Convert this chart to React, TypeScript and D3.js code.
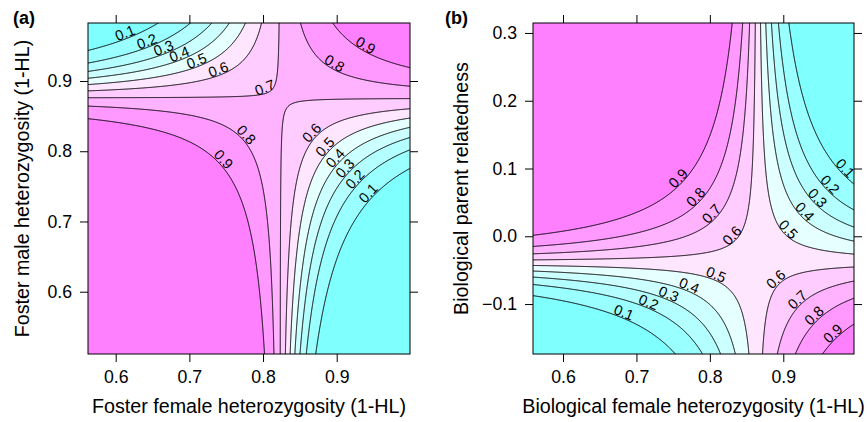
import { useEffect, useRef } from "react";
import * as d3 from "d3";

// contour levels drawn and labelled in both panels
const levels = [0.1, 0.2, 0.3, 0.4, 0.5, 0.6, 0.7, 0.8, 0.9];
// fill breaks (one colour per 0.1 band)
const breaks = [0, 0.1, 0.2, 0.3, 0.4, 0.5, 0.6, 0.7, 0.8, 0.9];

// panel (a): foster parents
const xLimA = [0.5624, 0.9995];
const yLimA = [0.5113, 0.9826];
const xTicksA = [0.6, 0.7, 0.8, 0.9];
const yTicksA = [0.6, 0.7, 0.8, 0.9];
// fitted surface, logit(p) = centre + slope * (x - x0) * (y - y0)
const saddleA = [0.823, 0.8757];
const centreA = 0.87;
const slopeA = 173.6;

// panel (b): biological parents
const xLimB = [0.5591, 0.9963];
const yLimB = [-0.1737, 0.3147];
const xTicksB = [0.6, 0.7, 0.8, 0.9];
const yTicksB = [-0.1, 0.0, 0.1, 0.2, 0.3];
const saddleB = [0.8646, -0.038];
const centreB = 0.25;
const slopeB = -161.6;

const FONT = "'Liberation Sans', Arial, Helvetica, sans-serif";

// cyan -> white -> magenta, ten steps
const palette = [
  "#80ffff", "#99ffff", "#b3ffff", "#ccffff", "#e6ffff",
  "#ffe6ff", "#ffccff", "#ffb3ff", "#ff99ff", "#ff80ff",
];

const logit = (p: number) => Math.log(p / (1 - p));
const fmt = d3.format(".1f");

function Panel({ box, xLim, yLim, xTicks, yTicks, saddle, centre, slope, xTitle, yTitle, tag, id }: any) {
  const axRef = useRef<SVGGElement>(null);
  const x = d3.scaleLinear().domain(xLim).range([box.left, box.right]);
  const y = d3.scaleLinear().domain(yLim).range([box.bottom, box.top]);

  const prob = (xv: number, yv: number) =>
    1 / (1 + Math.exp(-(centre + slope * (xv - saddle[0]) * (yv - saddle[1]))));

  // sample the surface a little beyond the frame so the grid border gets clipped away
  const m = 3;
  const gx0 = box.left - m;
  const gy0 = box.top - m;
  const nx = Math.ceil(box.right - box.left + 2 * m);
  const ny = Math.ceil(box.bottom - box.top + 2 * m);
  const values = new Float64Array(nx * ny);
  for (let j = 0; j < ny; j++) {
    const yv = y.invert(gy0 + j + 0.5);
    for (let i = 0; i < nx; i++) values[j * nx + i] = prob(x.invert(gx0 + i + 0.5), yv);
  }
  const bands = d3.contours().size([nx, ny]).thresholds(breaks)(values as any);
  const lines = d3.contours().size([nx, ny]).thresholds(levels)(values as any);
  const path = d3.geoPath();

  // one label per hyperbola branch, on the diagonal from the saddle to the corner
  const sx0 = x(saddle[0]);
  const sy0 = y(saddle[1]);
  const ax = (box.right - box.left) / (xLim[1] - xLim[0]);
  const ay = (box.bottom - box.top) / (yLim[1] - yLim[0]);
  const maxTilt = (47 * Math.PI) / 180;
  const labels: { level: number; px: number; py: number; angle: number }[] = [];
  const quads = [[-1, 1], [1, 1], [-1, -1], [1, -1]];
  levels.forEach((l) => {
    const C = (logit(l) - centre) / slope;
    const K = Math.abs(C) * ax * ay;
    quads
      .filter(([sx, sy]) => sx * sy === Math.sign(C))
      .forEach(([sx, sy]) => {
        const Xc = sx > 0 ? box.right - sx0 : sx0 - box.left;
        const Yc = sy > 0 ? sy0 - box.top : box.bottom - sy0;
        if (K >= Xc * Yc) return;
        if (Math.sqrt(K) < 16 && labels.some((d) => d.level === l)) return;
        const t = Math.min(Math.atan(Yc / Xc), maxTilt);
        const a = Math.sqrt(K / Math.tan(t));
        const b = K / a;
        const px = sx0 + sx * a;
        const py = sy0 - sy * b;
        const angle = (Math.atan((sy * b) / (sx * a)) * 180) / Math.PI;
        labels.push({ level: l, px, py, angle });
      });
  });

  useEffect(() => {
    const g = d3.select(axRef.current);
    g.selectAll("*").remove();
    const style = (sel: any) => {
      sel.select(".domain").remove();
      sel.selectAll("line").attr("stroke", "#000");
      sel.selectAll("text").attr("font-size", 17.7).attr("font-family", FONT).attr("fill", "#000");
    };
    g.append("g")
      .attr("transform", `translate(0,${box.bottom})`)
      .call(d3.axisBottom(x).tickValues(xTicks).tickSize(8).tickPadding(8).tickFormat(fmt as any))
      .call(style);
    g.append("g")
      .attr("transform", `translate(0,${box.top})`)
      .call(d3.axisTop(x).tickValues(xTicks).tickSize(8).tickFormat(() => ""))
      .call(style);
    g.append("g")
      .attr("transform", `translate(${box.left},0)`)
      .call(d3.axisLeft(y).tickValues(yTicks).tickSize(8).tickPadding(8).tickFormat(fmt as any))
      .call(style);
    g.append("g")
      .attr("transform", `translate(${box.right},0)`)
      .call(d3.axisRight(y).tickValues(yTicks).tickSize(8).tickFormat(() => ""))
      .call(style);
  }, []);

  const cx = (box.left + box.right) / 2;
  const cy = (box.top + box.bottom) / 2;

  return (
    <g>
      <defs>
        <clipPath id={id}>
          <rect x={box.left} y={box.top} width={box.right - box.left} height={box.bottom - box.top} />
        </clipPath>
      </defs>
      <g clipPath={`url(#${id})`}>
        <g transform={`translate(${gx0},${gy0})`}>
          {bands.map((b, i) => (
            <path key={i} d={path(b as any) || ""} fill={palette[i]} stroke={palette[i]} strokeWidth={0.5} />
          ))}
          {lines.map((b, i) => (
            <path key={i} d={path(b as any) || ""} fill="none" stroke="#000" strokeWidth={1} />
          ))}
        </g>
        {labels.map((d, i) => (
          <text
            key={i}
            transform={`translate(${d.px},${d.py}) rotate(${d.angle})`}
            textAnchor="middle"
            dy="-0.05em"
            fontSize={14.5}
            fontFamily={FONT}
            fill="#000"
          >
            {fmt(d.level)}
          </text>
        ))}
      </g>
      <rect
        x={box.left}
        y={box.top}
        width={box.right - box.left}
        height={box.bottom - box.top}
        fill="none"
        stroke="#000"
        strokeWidth={1}
      />
      <g ref={axRef} />
      <text x={cx} y={413.3} textAnchor="middle" fontSize={19.7} fontFamily={FONT}>
        {xTitle}
      </text>
      <text transform={`translate(${box.yTitleX},${cy}) rotate(-90)`} textAnchor="middle" fontSize={19.7} fontFamily={FONT}>
        {yTitle}
      </text>
      <text x={box.tagX} y={24} fontSize={18} fontWeight="bold" fontFamily={FONT}>
        {tag}
      </text>
    </g>
  );
}

export default function App() {
  return (
    <svg
      width={867}
      height={422}
      style={{ position: "absolute", left: 0, top: 0, background: "#fff" }}
    >
      <Panel
        id="clipA"
        box={{ left: 88, top: 23, right: 410, bottom: 354, yTitleX: 29.3, tagX: 13 }}
        xLim={xLimA}
        yLim={yLimA}
        xTicks={xTicksA}
        yTicks={yTicksA}
        saddle={saddleA}
        centre={centreA}
        slope={slopeA}
        xTitle="Foster female heterozygosity (1-HL)"
        yTitle="Foster male heterozygosity (1-HL)"
        tag="(a)"
      />
      <Panel
        id="clipB"
        box={{ left: 533, top: 23, right: 854, bottom: 354, yTitleX: 468, tagX: 445 }}
        xLim={xLimB}
        yLim={yLimB}
        xTicks={xTicksB}
        yTicks={yTicksB}
        saddle={saddleB}
        centre={centreB}
        slope={slopeB}
        xTitle="Biological female heterozygosity (1-HL)"
        yTitle="Biological parent relatedness"
        tag="(b)"
      />
    </svg>
  );
}
